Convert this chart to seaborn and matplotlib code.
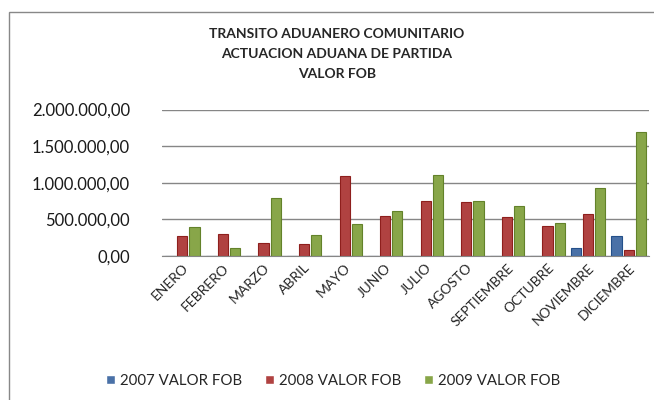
import numpy as np
import pandas as pd
import seaborn as sns
import matplotlib.pyplot as plt
from matplotlib.patches import Rectangle
from matplotlib.ticker import FuncFormatter

meses = ['ENERO', 'FEBRERO', 'MARZO', 'ABRIL', 'MAYO', 'JUNIO', 'JULIO',
         'AGOSTO', 'SEPTIEMBRE', 'OCTUBRE', 'NOVIEMBRE', 'DICIEMBRE']
fob_2007 = [0, 0, 0, 0, 0, 0, 0, 0, 0, 0, 108000, 270000]
fob_2008 = [270000, 297000, 176000, 162000, 1095000, 540000, 757000,
            743000, 527000, 405000, 568000, 81000]
fob_2009 = [390000, 108000, 797000, 284000, 432000, 608000, 1108000,
            757000, 689000, 446000, 932000, 1689000]
series = ['2007 VALOR FOB', '2008 VALOR FOB', '2009 VALOR FOB']
colores = ['#3b6fb6', '#c3302e', '#8db53a']
bordes = ['#24508a', '#8e1f1d', '#63822a']

df = pd.DataFrame({
    'mes': meses * 3,
    'serie': np.repeat(series, len(meses)),
    'valor': fob_2007 + fob_2008 + fob_2009,
})

sns.set_style('white')
plt.rcParams['font.family'] = ['Lato', 'DejaVu Sans']

fig = plt.figure(figsize=(6.54, 4.0), dpi=100)
ax = fig.add_axes([162 / 654, 1 - 256 / 400, 487 / 654, (256 - 109.5) / 400])

sns.barplot(data=df, x='mes', y='valor', hue='serie', palette=colores,
            width=0.9, gap=0.17, ax=ax, legend=True)

# darker edges per series to hint at the bevel look
for cont, ec in zip(ax.containers, bordes):
    for bar in cont:
        bar.set_edgecolor(ec)
        bar.set_linewidth(0.8)

ax.set_ylim(0, 2000000)
ax.set_xlim(-0.5, 11.5)
ax.set_yticks([0, 500000, 1000000, 1500000, 2000000])
fmt = lambda v, p: f'{v:,.2f}'.replace(',', 'X').replace('.', ',').replace('X', '.')
ax.yaxis.set_major_formatter(FuncFormatter(fmt))
ax.yaxis.grid(True, color='#868686', lw=1)
ax.set_axisbelow(True)
for s in ['left', 'right', 'top']:
    ax.spines[s].set_visible(False)
ax.spines['bottom'].set_color('#868686')
ax.tick_params(axis='y', labelsize=12, length=0, pad=23, colors='#1a1a1a')
ax.tick_params(axis='x', labelsize=10, length=0, pad=4)
plt.setp(ax.get_xticklabels(), rotation=45, ha='right', rotation_mode='anchor')
ax.set_xlabel('')
ax.set_ylabel('')

fig.text(337 / 654, 1 - 54 / 400, 'TRANSITO ADUANERO COMUNITARIO\nACTUACION ADUANA DE PARTIDA\nVALOR FOB',
         ha='center', va='center', fontsize=10, fontweight='bold', linespacing=1.75)

h, l = ax.get_legend_handles_labels()
ax.legend_.remove()
fig.legend(h, l, loc='center', bbox_to_anchor=(333 / 654, 1 - 381 / 400), ncol=3,
           frameon=False, fontsize=10.8, handlelength=0.6, handleheight=0.6,
           handletextpad=0.35, columnspacing=1.5)

fig.patches.append(Rectangle((9 / 654, -0.1), 1.2, 0.1 + 1 - 12 / 400,
                             transform=fig.transFigure, fill=False,
                             edgecolor='#888888', lw=1))

fig.savefig('out.png', dpi=100)
